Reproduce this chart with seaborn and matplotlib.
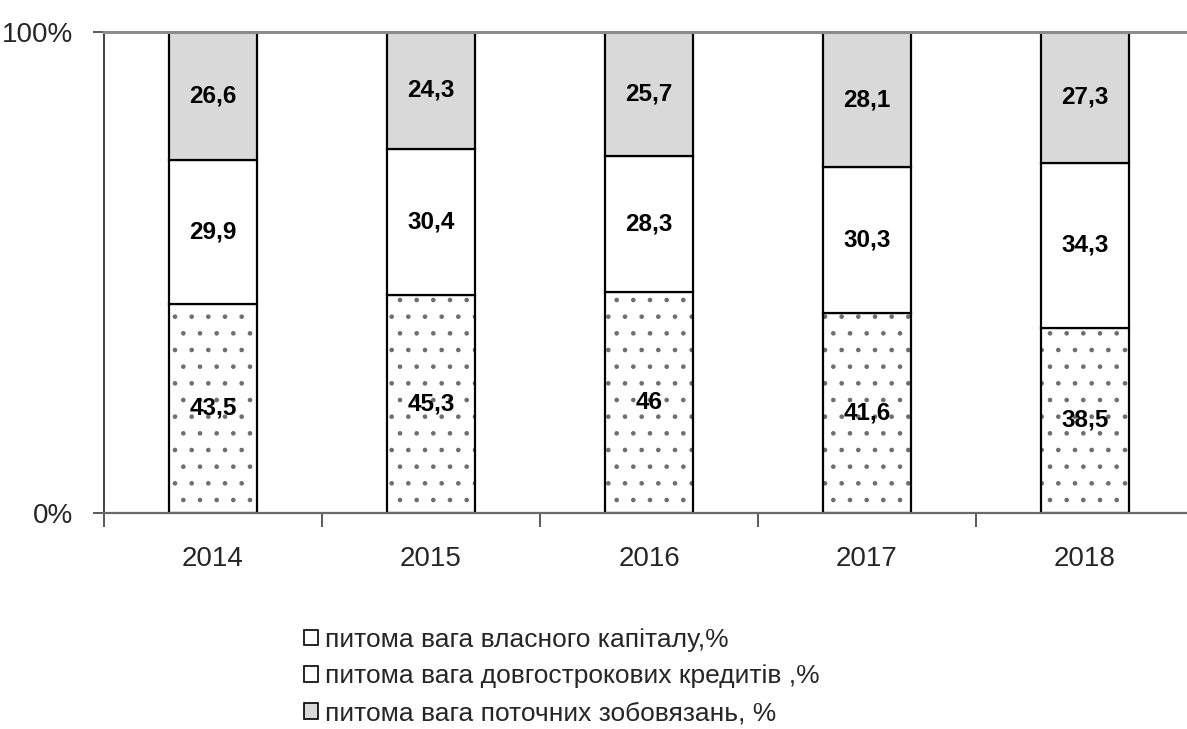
import matplotlib
matplotlib.use("Agg")
import matplotlib.pyplot as plt
from matplotlib.patches import Patch
from matplotlib.ticker import FixedLocator, FixedFormatter
import numpy as np
import pandas as pd
import seaborn as sns

years = ["2014", "2015", "2016", "2017", "2018"]
equity = [43.5, 45.3, 46, 41.6, 38.5]
long_term_loans = [29.9, 30.4, 28.3, 30.3, 34.3]
current_liabilities = [26.6, 24.3, 25.7, 28.1, 27.3]
equity_labels = ["43,5", "45,3", "46", "41,6", "38,5"]
loans_labels = ["29,9", "30,4", "28,3", "30,3", "34,3"]
current_labels = ["26,6", "24,3", "25,7", "28,1", "27,3"]
legend_labels = [
    "питома вага власного капіталу,%",
    "питома вага довгострокових кредитів ,%",
    "питома вага поточних зобовязань, %",
]
y_tick_labels = ["0%", "100%"]

sns.set_style("white")
plt.rcParams["font.family"] = ["Liberation Sans Narrow", "Liberation Sans", "DejaVu Sans"]
plt.rcParams["hatch.linewidth"] = 0.9

df = pd.DataFrame({
    "year": years,
    "equity": equity,
    "loans": long_term_loans,
    "current": current_liabilities,
})
df["loans_bottom"] = df["equity"]
df["current_bottom"] = df["equity"] + df["loans"]

fig = plt.figure(figsize=(11.87, 7.29), dpi=100)
ax = fig.add_axes([104 / 1187, 216 / 729, 1090 / 1187, 481 / 729])

bar_w = 0.40
edge = dict(edgecolor="black", linewidth=1.6)

# dotted fill for equity (grey dots), then its black outline
sns.barplot(data=df, x="year", y="equity", color="white", width=bar_w,
            hatch=".", edgecolor="#6e6e6e", linewidth=0, ax=ax, saturation=1)
sns.barplot(data=df, x="year", y="equity", fill=False, width=bar_w,
            ax=ax, saturation=1, **edge)
sns.barplot(data=df, x="year", y="loans", bottom=df["loans_bottom"],
            color="white", width=bar_w, ax=ax, saturation=1, **edge)
sns.barplot(data=df, x="year", y="current", bottom=df["current_bottom"],
            color="#d9d9d9", width=bar_w, ax=ax, saturation=1, **edge)

label_font = dict(fontsize=17.5, fontweight="bold", color="black")
for cont, labels in zip(ax.containers[1:], [equity_labels, loans_labels, current_labels]):
    ax.bar_label(cont, labels=labels, label_type="center", **label_font)

ax.set_xlim(-0.5, 4.5)
ax.set_ylim(0, 100)
ax.set_xlabel("")
ax.set_ylabel("")

# y axis: only 0% and 100%
ax.yaxis.set_major_locator(FixedLocator([0, 100]))
ax.yaxis.set_major_formatter(FixedFormatter(y_tick_labels))
ax.tick_params(axis="y", which="major", left=True, length=8, width=1.2,
               color="#404040", labelsize=20, pad=14)

# x axis: labels at bar centres, tick marks between categories
ax.tick_params(axis="x", which="major", bottom=True, length=0, labelsize=20, pad=24)
ax.xaxis.set_minor_locator(FixedLocator(np.arange(-0.5, 5.0, 1.0)))
ax.tick_params(axis="x", which="minor", bottom=True, length=10, width=1.2,
               color="#404040")

ax.spines["left"].set_color("#404040")
ax.spines["left"].set_linewidth(1.4)
ax.spines["bottom"].set_color("#6a6a6a")
ax.spines["bottom"].set_linewidth(1.6)
ax.spines["top"].set_color("#8c8c8c")
ax.spines["top"].set_linewidth(2.2)
ax.spines["right"].set_visible(False)

handles = [
    Patch(facecolor="white", edgecolor="black", linewidth=1.2),
    Patch(facecolor="white", edgecolor="black", linewidth=1.2),
    Patch(facecolor="#d9d9d9", edgecolor="black", linewidth=1.2),
]
fig.legend(handles, legend_labels, loc="upper left",
           bbox_to_anchor=(288 / 1187, 1 - 612 / 729), frameon=False,
           fontsize=19, handlelength=0.55, handleheight=0.55,
           handletextpad=0.25, labelspacing=0.48, borderpad=0.1)

fig.savefig("out.png", dpi=100)
